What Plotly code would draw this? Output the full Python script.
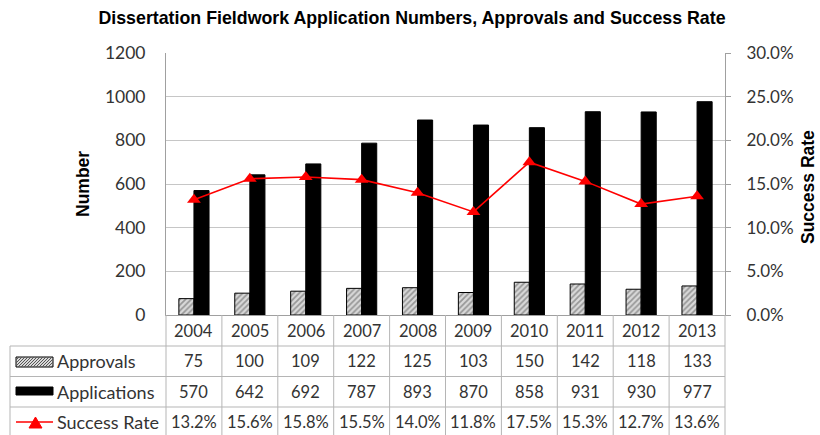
import plotly.graph_objects as go

years = ["2004", "2005", "2006", "2007", "2008", "2009", "2010", "2011", "2012", "2013"]
approvals = [75, 100, 109, 122, 125, 103, 150, 142, 118, 133]
applications = [570, 642, 692, 787, 893, 870, 858, 931, 930, 977]
success_rate = [0.132, 0.156, 0.158, 0.155, 0.140, 0.118, 0.175, 0.153, 0.127, 0.136]
row_labels = ["Approvals", "Applications", "Success Rate"]

W, H = 820, 435
L, R, T, B = 166, 725, 53, 315
PW, PH = R - L, B - T


def px(x):
    return (x - L) / PW


def py(y):
    return (B - y) / PH


GRID = "#c6c6c6"
TXT = "#333333"
FONT = "Lato"

fig = go.Figure()
fig.add_trace(go.Bar(
    x=years, y=approvals, name="Approvals",
    marker=dict(color="#d9d9d9", line=dict(color="black", width=1),
                pattern=dict(shape="/", fgcolor="#555555", bgcolor="#d9d9d9", size=4, solidity=0.45)),
))
fig.add_trace(go.Bar(
    x=years, y=applications, name="Applications",
    marker=dict(color="black", line=dict(color="black", width=1)),
))
fig.add_trace(go.Scatter(
    x=years, y=success_rate, name="Success Rate", yaxis="y2", mode="lines+markers",
    line=dict(color="#ff0000", width=1.6),
    marker=dict(symbol="triangle-up", size=12, color="#ff0000"),
))

shapes = []
ann = []

# table lines
tcol = "#b5b5b5"
for i in range(11):
    shapes.append(dict(type="line", xref="paper", yref="paper", x0=i / 10, x1=i / 10,
                       y0=py(315), y1=py(435), line=dict(color=tcol, width=1)))
shapes.append(dict(type="line", xref="paper", yref="paper", x0=px(10), x1=px(10),
                   y0=py(346), y1=py(435), line=dict(color=tcol, width=1)))
for yy in (346, 376.5, 407):
    shapes.append(dict(type="line", xref="paper", yref="paper", x0=px(10), x1=1,
                       y0=py(yy), y1=py(yy), line=dict(color=tcol, width=1)))

# table text
row_vals = [[str(v) for v in approvals], [str(v) for v in applications],
            ["%.1f%%" % (v * 100) for v in success_rate]]
row_y = [361, 392, 422]
for i, yr in enumerate(years):
    ann.append(dict(x=(i + 0.5) / 10, y=py(330.5), xref="paper", yref="paper", text=yr,
                    xanchor="center", yanchor="middle",
                    showarrow=False, font=dict(family=FONT, size=16.5, color=TXT)))
    for r in range(3):
        ann.append(dict(x=(i + 0.5) / 10, y=py(row_y[r]), xref="paper", yref="paper",
                        text=row_vals[r][i], showarrow=False, xanchor="center", yanchor="middle",
                        font=dict(family=FONT, size=16.5, color=TXT)))
for r in range(3):
    ann.append(dict(x=px(55), y=py(row_y[r]), xref="paper", yref="paper", text=row_labels[r],
                    xanchor="left", yanchor="middle", showarrow=False,
                    font=dict(family=FONT, size=18, color=TXT)))

# legend swatches
sx0, sx1 = 16, 53
ay0, ay1 = 357, 367
shapes.append(dict(type="rect", xref="paper", yref="paper", x0=px(sx0), x1=px(sx1),
                   y0=py(ay1), y1=py(ay0), fillcolor="#d9d9d9", line=dict(color="black", width=1)))
c = sx0 + ay0
while c < sx1 + ay1:
    xa = max(sx0, c - ay1)
    xb = min(sx1, c - ay0)
    if xb > xa:
        shapes.append(dict(type="line", xref="paper", yref="paper", x0=px(xa), y0=py(c - xa),
                           x1=px(xb), y1=py(c - xb), line=dict(color="#555555", width=1)))
    c += 3
shapes.append(dict(type="rect", xref="paper", yref="paper", x0=px(sx0), x1=px(sx1),
                   y0=py(395), y1=py(387), fillcolor="black", line=dict(color="black", width=1)))
shapes.append(dict(type="line", xref="paper", yref="paper", x0=px(sx0), x1=px(sx1),
                   y0=py(422), y1=py(422), line=dict(color="#ff0000", width=1.6)))
shapes.append(dict(type="path", xref="paper", yref="paper",
                   path="M %f %f L %f %f L %f %f Z" % (px(29), py(428), px(42), py(428), px(35.5), py(417)),
                   fillcolor="#ff0000", line=dict(color="#ff0000", width=1)))

# axis titles
ann.append(dict(x=px(83), y=py(184), xref="paper", yref="paper", text="<b>Number</b>",
                textangle=-90, showarrow=False, xanchor="center", yanchor="middle",
                font=dict(family="Liberation Sans", size=17.5, color="black")))
ann.append(dict(x=px(808), y=py(187), xref="paper", yref="paper", text="<b>Success Rate</b>",
                textangle=-90, showarrow=False, xanchor="center", yanchor="middle",
                font=dict(family="Liberation Sans", size=17.5, color="black")))

fig.update_layout(
    width=W, height=H,
    margin=dict(l=L, r=W - R, t=T, b=H - B, pad=0),
    paper_bgcolor="white", plot_bgcolor="white",
    title=dict(text="<b>Dissertation Fieldwork Application Numbers, Approvals and Success Rate</b>",
               x=412 / W, xanchor="center", y=1 - 18 / H, yanchor="middle",
               font=dict(family="Liberation Sans", size=17.8, color="black")),
    showlegend=False,
    barmode="group", bargap=0.46, bargroupgap=0,
    xaxis=dict(showticklabels=False, ticks="", showgrid=False, showline=True,
               linecolor="#a0a0a0", linewidth=1, range=[-0.5, 9.5]),
    yaxis=dict(range=[0, 1200], dtick=200, showgrid=True, gridcolor=GRID, gridwidth=1,
               showline=True, linecolor="#a0a0a0", zeroline=False,
               tickfont=dict(family=FONT, size=17.5, color=TXT), ticklabelstandoff=16),
    yaxis2=dict(range=[0, 0.3], dtick=0.05, tickformat=".1%", overlaying="y", side="right",
                showgrid=False, showline=True, linecolor="#a0a0a0", ticks="outside", ticklen=5,
                tickcolor="#a0a0a0", zeroline=False,
                tickfont=dict(family=FONT, size=17, color=TXT), ticklabelstandoff=12),
    shapes=shapes, annotations=ann,
)

fig.write_html("out.html", config={"displayModeBar": False},
               post_script="document.body.style.margin='0';document.body.style.overflow='hidden';")
